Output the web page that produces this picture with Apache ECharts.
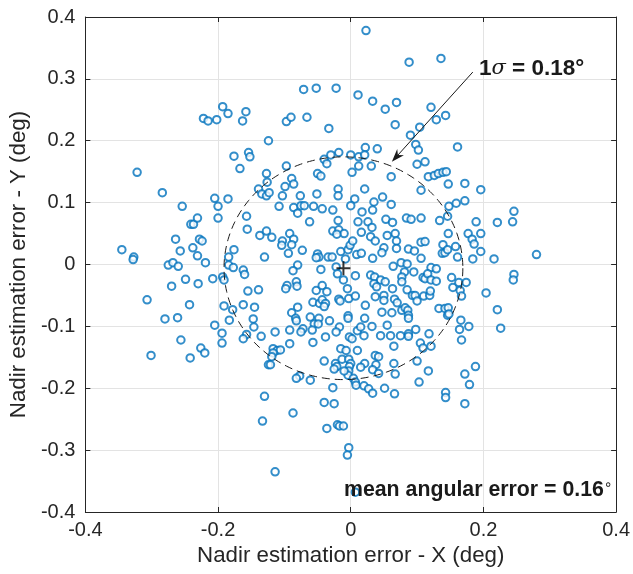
<!DOCTYPE html>
<html>
<head>
<meta charset="utf-8">
<script src="https://cdn.jsdelivr.net/npm/echarts/dist/echarts.min.js"></script>
<style>
  html, body { margin: 0; padding: 0; background: #ffffff; }
  #chart { width: 633px; height: 574px; }
</style>
</head>
<body>
<div id="chart"></div>
<script>
// Nadir estimation errors [X, Y] in degrees
var errorsUpper = [
  [-0.193,0.255],[-0.185,0.244],[-0.158,0.247],[-0.222,0.236],[-0.215,0.232],[-0.202,0.234],[-0.163,0.232],
  [-0.176,0.175],[-0.154,0.181],[-0.152,0.174],[-0.167,0.155],[-0.322,0.149],
  [0.023,0.378],[-0.071,0.283],[-0.052,0.285],[-0.022,0.285],[0.011,0.274],[0.033,0.264],[0.052,0.251],
  [0.069,0.262],[0.067,0.226],[-0.097,0.231],[-0.090,0.238],[-0.066,0.238],[-0.033,0.220],[-0.124,0.200],
  [0.022,0.189],[0.040,0.187],[0.000,0.177],[-0.018,0.181],[-0.030,0.177],[-0.040,0.170],[-0.036,0.163],
  [0.012,0.174],[0.021,0.177],[0.012,0.159],[0.031,0.159],[-0.097,0.159],[-0.127,0.147],[-0.050,0.147],
  [-0.045,0.143],[0.002,0.149],[0.061,0.142],[-0.089,0.139],
  [0.088,0.327],[0.136,0.333],[0.121,0.254],[0.129,0.234],[0.143,0.241],[0.104,0.222],[0.090,0.209],
  [0.098,0.194],[0.102,0.185],[0.161,0.190],[0.100,0.162],[0.112,0.166],[0.117,0.142],[0.126,0.144],
  [0.132,0.147],[0.139,0.149],[0.144,0.150]
];

var errorsMiddle = [
  [-0.284,0.116],[-0.205,0.107],[-0.185,0.106],[-0.254,0.094],[-0.200,0.094],[-0.200,0.075],[-0.241,0.065],
  [-0.237,0.065],[-0.231,0.075],[-0.157,0.078],[-0.156,0.057],[-0.264,0.041],[-0.228,0.041],[-0.224,0.038],
  [-0.345,0.024],[-0.327,0.012],[-0.328,0.008],[-0.257,0.022],[-0.238,0.027],[-0.231,0.014],[-0.176,0.024],
  [-0.184,0.012],[-0.275,-0.001],[-0.268,0.003],[-0.260,-0.003],[-0.219,0.003],[-0.184,-0.001],[-0.177,-0.005],
  [-0.162,-0.009],[-0.160,-0.016],[-0.193,-0.020],[-0.191,-0.025],[-0.249,-0.024],[-0.208,-0.023],[-0.230,-0.031],
  [-0.270,-0.035],[-0.155,-0.043],[-0.307,-0.057],[-0.243,-0.065],[-0.191,-0.067],[-0.178,-0.073],[-0.162,-0.065],
  [-0.280,-0.088],[-0.261,-0.086],[-0.183,-0.090],[-0.205,-0.098],[-0.194,-0.111],[-0.157,-0.113],[-0.162,-0.120],
  [-0.256,-0.122],
  [-0.126,0.133],[-0.099,0.126],[-0.086,0.130],[-0.139,0.122],[-0.134,0.114],[-0.127,0.111],[-0.123,0.116],
  [-0.103,0.111],[-0.076,0.111],[-0.051,0.114],[-0.019,0.122],[-0.019,0.111],[0.021,0.122],[0.006,0.106],
  [0.000,0.095],[0.035,0.101],[0.048,0.109],[0.061,0.097],[-0.108,0.094],[-0.086,0.092],[-0.080,0.083],
  [-0.075,0.095],[-0.070,0.095],[-0.056,0.094],[-0.043,0.090],[-0.027,0.088],[0.017,0.085],[0.033,0.088],
  [0.053,0.073],[0.063,0.068],[0.067,0.050],[-0.062,0.069],[-0.019,0.071],[0.011,0.069],[0.026,0.069],
  [0.032,0.060],[-0.027,0.054],[-0.018,0.056],[-0.010,0.050],[-0.021,0.049],[0.016,0.052],[0.030,0.045],
  [0.037,0.038],[0.055,0.047],[0.069,0.038],[0.069,0.026],[-0.137,0.047],[-0.127,0.054],[-0.119,0.044],
  [-0.092,0.050],[-0.086,0.041],[-0.103,0.038],[-0.104,0.031],[-0.089,0.032],[-0.073,0.023],[-0.094,0.018],
  [-0.130,0.012],[-0.050,0.017],[-0.048,0.012],[-0.052,0.011],[-0.034,0.012],[-0.028,0.012],[-0.015,0.021],
  [-0.004,0.024],[-0.001,0.031],[0.003,0.038],[-0.008,0.009],[0.009,0.016],[0.016,0.018],[0.033,0.010],
  [0.050,0.027],[0.047,0.019],[0.064,-0.003],[-0.080,-0.001],[-0.087,-0.010],[-0.045,-0.008],[-0.022,-0.004],
  [-0.020,-0.015],[-0.011,-0.025],[0.007,-0.018],[0.030,-0.017],[0.036,-0.020],[0.045,-0.025],[0.035,-0.031],
  [0.039,-0.036],[0.052,-0.028],[0.063,-0.039],[-0.082,-0.028],[-0.081,-0.035],[-0.096,-0.034],[-0.098,-0.039],
  [-0.052,-0.042],[-0.043,-0.034],[-0.036,-0.044],[-0.005,-0.039],[-0.139,-0.041],[-0.018,-0.056],[-0.016,-0.059],
  [-0.003,-0.055],[0.007,-0.051],[0.037,-0.052],[0.050,-0.050],[0.050,-0.058],[0.066,-0.056],[0.070,-0.062],
  [-0.057,-0.061],[-0.047,-0.063],[-0.043,-0.057],[-0.038,-0.063],[-0.040,-0.068],[-0.080,-0.069],[-0.145,-0.069],
  [0.022,-0.066],[0.047,-0.077],[0.062,-0.078],[-0.089,-0.078],[-0.083,-0.087],[-0.082,-0.091],[-0.061,-0.085],
  [-0.048,-0.087],[-0.055,-0.096],[-0.049,-0.096],[-0.032,-0.091],[-0.004,-0.083],[-0.004,-0.087],[0.021,-0.087],
  [-0.147,-0.088],[-0.146,-0.101],[0.055,-0.098],[0.032,-0.100],[0.010,-0.107],[0.015,-0.101],[-0.017,-0.101],
  [-0.072,-0.104],[-0.075,-0.109],[-0.092,-0.106],[-0.114,-0.109],[-0.058,-0.106],[-0.038,-0.117],[-0.022,-0.109],
  [-0.002,-0.117],[0.002,-0.120],[0.020,-0.115],[0.045,-0.115],[0.060,-0.115],[-0.135,-0.116],
  [0.106,0.120],[0.147,0.130],[0.172,0.131],[0.196,0.121],[0.148,0.094],[0.159,0.099],[0.172,0.103],
  [0.084,0.075],[0.091,0.073],[0.106,0.075],[0.134,0.071],[0.146,0.078],[0.189,0.069],[0.221,0.068],
  [0.244,0.069],[0.246,0.086],[0.147,0.050],[0.177,0.050],[0.183,0.041],[0.186,0.033],[0.196,0.050],
  [0.139,0.032],[0.138,0.018],[0.142,0.019],[0.146,0.024],[0.158,0.029],[0.161,0.012],[0.184,0.009],
  [0.196,0.021],[0.216,0.009],[0.280,0.016],[0.106,0.036],[0.112,0.037],[0.087,0.025],[0.096,0.022],
  [0.106,0.010],[0.076,0.003],[0.085,0.001],[0.095,-0.012],[0.081,-0.012],[0.121,-0.005],[0.129,-0.007],
  [0.109,-0.021],[0.112,-0.023],[0.116,-0.015],[0.121,-0.025],[0.129,-0.027],[0.077,-0.020],[0.077,-0.028],
  [0.152,-0.021],[0.154,-0.037],[0.163,-0.029],[0.174,-0.029],[0.165,-0.042],[0.167,-0.051],[0.246,-0.016],
  [0.245,-0.025],[0.204,-0.046],[0.085,-0.041],[0.093,-0.050],[0.097,-0.050],[0.100,-0.059],[0.110,-0.051],
  [0.119,-0.050],[0.120,-0.043],[0.077,-0.074],[0.082,-0.070],[0.086,-0.074],[0.087,-0.082],[0.087,-0.087],
  [0.133,-0.071],[0.142,-0.071],[0.147,-0.070],[0.146,-0.082],[0.148,-0.080],[0.221,-0.073],[0.166,-0.090],
  [0.178,-0.100],[0.226,-0.103],[0.164,-0.105],[0.098,-0.105],[0.118,-0.112],[0.087,-0.112],[0.087,-0.116],
  [0.075,-0.115],[0.167,-0.122]
];

var errorsLower = [
  [-0.301,-0.147],[-0.242,-0.151],[-0.226,-0.135],[-0.220,-0.143],[-0.194,-0.127],
  [-0.117,-0.136],[-0.111,-0.139],[-0.106,-0.138],[-0.117,-0.143],[-0.092,-0.128],[-0.057,-0.126],[-0.015,-0.136],
  [-0.007,-0.139],[0.010,-0.139],[0.065,-0.132],[-0.119,-0.149],[-0.124,-0.162],[-0.121,-0.162],[-0.040,-0.156],
  [-0.023,-0.160],[-0.021,-0.165],[-0.025,-0.169],[-0.013,-0.153],[-0.003,-0.153],[0.000,-0.160],[-0.002,-0.165],
  [-0.003,-0.172],[-0.004,-0.179],[-0.010,-0.172],[0.021,-0.160],[0.015,-0.166],[0.037,-0.147],[0.042,-0.149],
  [0.038,-0.162],[0.033,-0.170],[0.042,-0.176],[0.065,-0.160],[0.067,-0.177],[-0.077,-0.180],[-0.082,-0.184],
  [-0.061,-0.187],[0.004,-0.184],[0.007,-0.190],[0.008,-0.195],[0.020,-0.196],[0.027,-0.201],[0.033,-0.208],
  [0.051,-0.200],[0.066,-0.209],[-0.027,-0.199],[-0.130,-0.213],[-0.040,-0.223],[-0.025,-0.225],[-0.087,-0.240],
  [-0.133,-0.253],[-0.036,-0.265],[-0.020,-0.259],[-0.017,-0.261],[-0.011,-0.261],[-0.003,-0.296],[-0.005,-0.308],
  [-0.114,-0.335],[0.007,-0.368],
  [0.105,-0.127],[0.109,-0.135],[0.121,-0.132],[0.100,-0.156],[0.117,-0.172],[0.103,-0.190],[0.143,-0.207],
  [0.143,-0.215],[0.172,-0.177],[0.179,-0.194],[0.188,-0.165],[0.172,-0.225]
];

var meanError = [-0.011, -0.006];       // mean of the estimation error (deg)
var sigmaRadius = 0.18;                 // 1-sigma radius (deg)
var meanAngularError = 0.16;            // mean angular error (deg)
var arrowFrom = [0.184, 0.311];         // annotation arrow tail (deg)
var arrowTo = [0.062, 0.166];           // annotation arrow head (deg)

var xTicks = [-0.4, -0.2, 0, 0.2, 0.4];
var yTicks = [-0.4, -0.3, -0.2, -0.1, 0, 0.1, 0.2, 0.3, 0.4];

var xLabel = 'Nadir estimation error - X (deg)';
var yLabel = 'Nadir estimation error - Y (deg)';

var samples = errorsUpper.concat(errorsMiddle, errorsLower);

var FONT = "'Liberation Sans', Arial, Helvetica, sans-serif";
var INK = '#262626';
var BLUE = '#0072BD';

function fmt(v) { return String(parseFloat(v.toFixed(2))); }

function axisBase(ticks, extra) {
  var a = {
    type: 'value',
    min: ticks[0],
    max: ticks[ticks.length - 1],
    interval: ticks[1] - ticks[0],
    axisLine: { show: true, onZero: false, lineStyle: { color: INK, width: 1 } },
    axisTick: { show: true, inside: true, length: 5, lineStyle: { color: INK, width: 1 } },
    splitLine: { show: false },
    axisLabel: { show: false }
  };
  for (var k in extra) a[k] = extra[k];
  return a;
}

var chart = echarts.init(document.getElementById('chart'), null, { renderer: 'canvas' });

chart.setOption({
  animation: false,
  backgroundColor: '#ffffff',
  textStyle: { fontFamily: FONT },
  grid: { left: 84, right: 13, top: 17, bottom: 62, containLabel: false },
  xAxis: [
    axisBase(xTicks, {
      position: 'bottom',
      name: xLabel,
      nameLocation: 'middle',
      nameGap: 30,
      nameTextStyle: { color: INK, fontSize: 22.3, fontFamily: FONT },
      splitLine: { show: true, lineStyle: { color: '#e3e3e3', width: 1 } },
      axisLabel: { show: true, color: INK, fontSize: 20, fontFamily: FONT, margin: 8, formatter: fmt }
    }),
    axisBase(xTicks, { position: 'top' })
  ],
  yAxis: [
    axisBase(yTicks, {
      position: 'left',
      name: yLabel,
      nameLocation: 'middle',
      nameGap: 48,
      nameTextStyle: { color: INK, fontSize: 22.3, fontFamily: FONT },
      splitLine: { show: true, lineStyle: { color: '#e3e3e3', width: 1 } },
      axisLabel: { show: true, color: INK, fontSize: 20, fontFamily: FONT, margin: 10, formatter: fmt }
    }),
    axisBase(yTicks, { position: 'right' })
  ],
  series: [
    {
      type: 'scatter',
      name: 'errors',
      data: samples,
      symbol: 'emptyCircle',
      symbolSize: 7.5,
      itemStyle: { color: BLUE, borderColor: BLUE, borderWidth: 1 },
      z: 3
    },
    {
      // dashed 1-sigma circle around the mean
      type: 'custom',
      coordinateSystem: 'cartesian2d',
      silent: true,
      data: [[meanError[0], meanError[1], sigmaRadius]],
      renderItem: function (params, api) {
        var c = api.coord([api.value(0), api.value(1)]);
        var s = api.size([api.value(2), api.value(2)]);
        var pts = [];
        for (var k = 0; k <= 240; k++) {
          var a = k / 240 * 2 * Math.PI;
          pts.push([c[0] + s[0] * Math.cos(a), c[1] + s[1] * Math.sin(a)]);
        }
        return {
          type: 'polyline',
          shape: { points: pts },
          style: { stroke: '#1a1a1a', fill: null, lineWidth: 1, lineDash: [8, 5] }
        };
      },
      z: 4
    },
    {
      // mean marker
      type: 'scatter',
      name: 'mean',
      data: [meanError],
      symbol: 'path://M6,0H8V6H14V8H8V14H6V8H0V6H6Z',
      symbolSize: 14,
      itemStyle: { color: '#000000' },
      z: 6
    },
    {
      // annotation arrow pointing at the 1-sigma circle
      type: 'custom',
      coordinateSystem: 'cartesian2d',
      silent: true,
      data: [[arrowFrom[0], arrowFrom[1], arrowTo[0], arrowTo[1]]],
      renderItem: function (params, api) {
        var p0 = api.coord([api.value(0), api.value(1)]);
        var p1 = api.coord([api.value(2), api.value(3)]);
        var dx = p1[0] - p0[0], dy = p1[1] - p0[1];
        var len = Math.sqrt(dx * dx + dy * dy);
        var ux = dx / len, uy = dy / len, nx = -uy, ny = ux;
        var L = 13, W = 4.5, B = 9;
        var back = [p1[0] - ux * L, p1[1] - uy * L];
        var notch = [p1[0] - ux * B, p1[1] - uy * B];
        return {
          type: 'group',
          children: [
            { type: 'line', shape: { x1: p0[0], y1: p0[1], x2: notch[0], y2: notch[1] },
              style: { stroke: '#1a1a1a', lineWidth: 1 } },
            { type: 'polygon',
              shape: { points: [p1, [back[0] + nx * W, back[1] + ny * W], notch, [back[0] - nx * W, back[1] - ny * W]] },
              style: { fill: '#1a1a1a' } }
          ]
        };
      },
      z: 7
    }
  ],
  graphic: [
    {
      type: 'text',
      left: 479,
      top: 57,
      z: 10,
      style: {
        text: '{b|1}{s|σ}{b| = ' + sigmaRadius.toFixed(2) + '°}',
        rich: {
          b: { fontFamily: FONT, fontWeight: 'bold', fontSize: 22.5, fill: '#1a1a1a' },
          s: { fontFamily: "'DejaVu Serif', 'Liberation Serif', serif", fontStyle: 'italic', fontSize: 21, fill: '#1a1a1a' }
        }
      }
    },
    {
      type: 'text',
      left: 344,
      top: 478,
      z: 10,
      style: {
        text: '{b|mean angular error = ' + meanAngularError.toFixed(2) + '}{d|∘}',
        rich: {
          b: { fontFamily: FONT, fontWeight: 'bold', fontSize: 21.3, fill: '#1a1a1a', lineHeight: 24 },
          d: { fontFamily: "'DejaVu Sans', sans-serif", fontSize: 14, fill: '#1a1a1a', verticalAlign: 'top', lineHeight: 11 }
        }
      }
    }
  ]
});
</script>
</body>
</html>
